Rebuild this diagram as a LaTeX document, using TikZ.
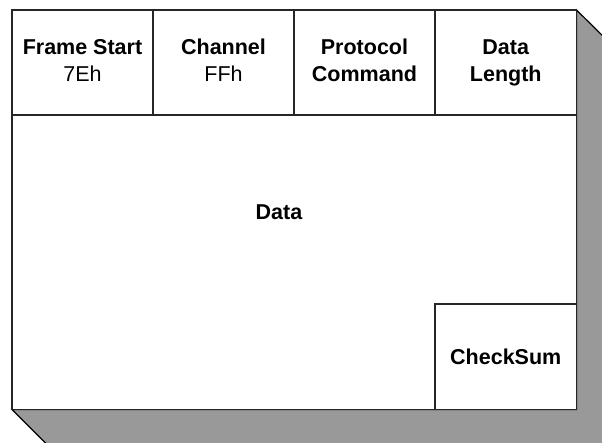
\documentclass[tikz,border=0pt]{standalone}
\usepackage{fontspec}
\setmainfont{Liberation Sans}
\definecolor{linec}{HTML}{262626}
\definecolor{shadowc}{HTML}{999999}
\newcommand{\cellfont}{\fontsize{21.5}{27.5}\selectfont}
\begin{document}
\begin{tikzpicture}[x=1pt,y=-1pt,
  cell/.style={draw=linec, fill=white, line width=1.3pt, inner sep=0pt, outer sep=0pt, align=center, font=\cellfont, text=black},
  label/.style={align=center, font=\cellfont, text=black, inner sep=0pt},
  shadow/.style={fill=shadowc, draw=black, line width=1.2pt}]
\useasboundingbox (0,0) rectangle (602,442);
\clip (0,0) rectangle (602,442);
\fill[white] (0,0) rectangle (602,442);
% shadow
\draw[shadow] (12,409.5) -- (47,444.5) -- (612,444.5) -- (612,45) -- (576.5,10) -- (576.5,409.5) -- cycle;
% main frame
\node[cell, anchor=north west, minimum width=564.5pt, minimum height=399.5pt] (frame) at (12,10) {};
% header cells
\node[cell, anchor=north west, minimum width=141pt, minimum height=105pt] (fs) at (12,10) {\strut\textbf{Frame Start}\\7Eh\strut};
\node[cell, anchor=north west, minimum width=141pt, minimum height=105pt] (ch) at (153,10) {\strut\textbf{Channel}\\FFh\strut};
\node[cell, anchor=north west, minimum width=141pt, minimum height=105pt] (pc) at (294,10) {\strut\textbf{Protocol}\\\textbf{Command}\strut};
\node[cell, anchor=north west, minimum width=141.5pt, minimum height=105pt] (dl) at (435,10) {\strut\textbf{Data}\\\textbf{Length}\strut};
% data
\node[label] (data) at (279,212) {\textbf{Data}};
% checksum
\node[cell, anchor=north west, minimum width=141.5pt, minimum height=105.5pt] (cs) at (435,304) {\textbf{CheckSum}};
\end{tikzpicture}
\end{document}
